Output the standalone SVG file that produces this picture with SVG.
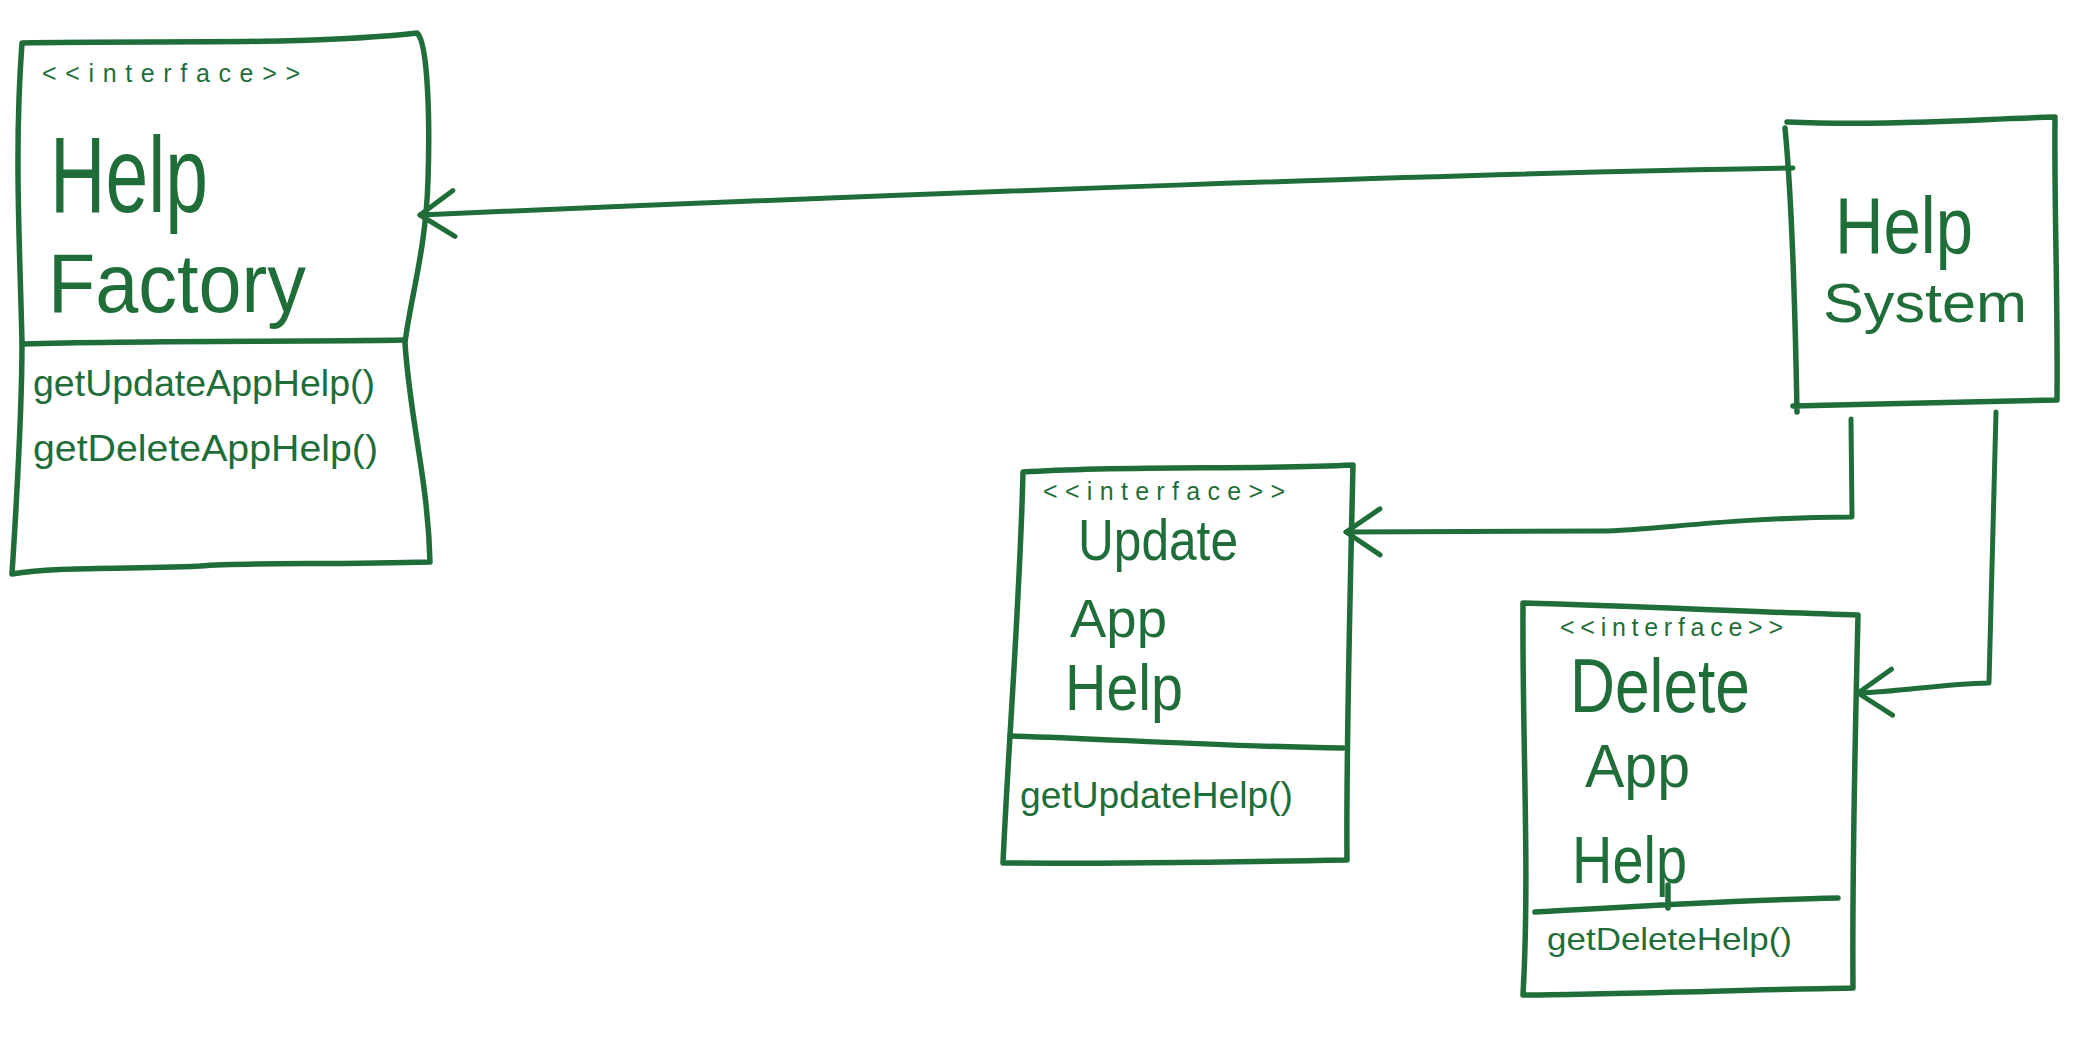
<svg xmlns="http://www.w3.org/2000/svg" width="2086" height="1062" viewBox="0 0 2086 1062">
<style>
.box{fill:none;stroke:#1f6e3a;stroke-width:5.5;stroke-linejoin:round;stroke-linecap:round}
.wire{fill:none;stroke:#1f6e3a;stroke-width:5;stroke-linecap:round;stroke-linejoin:round}
.t{fill:#1f6e3a;font-family:"Liberation Sans",Arial,sans-serif}
.st{font-size:25px}
.m{font-size:36px}
</style>
<defs>
<marker id="open" markerUnits="userSpaceOnUse" orient="auto" refX="0" refY="0" markerWidth="60" markerHeight="60" overflow="visible">
<path d="M-34,-23 L0,0 L-34,23" fill="none" stroke="#1f6e3a" stroke-width="5" stroke-linecap="round" stroke-linejoin="round"/>
</marker>
</defs>
<rect width="2086" height="1062" fill="#ffffff"/>

<g id="help-factory">
<path class="box" d="M22,43 C150,40 300,46 417,33 C428,42 430,120 428,180 C426,250 410,300 405,343 C410,420 428,480 430,562 C330,565 250,562 200,566 C120,570 60,566 12,574 C18,480 22,400 22,343 C20,250 14,150 22,43 Z"/>
<path class="box" d="M22,344 C150,340 300,342 405,340"/>
<text class="t st" x="42" y="82" textLength="258" lengthAdjust="spacing">&lt;&lt;interface&gt;&gt;</text>
<text class="t" x="50" y="212" font-size="108" textLength="158" lengthAdjust="spacingAndGlyphs">Help</text>
<text class="t" x="48" y="312" font-size="84" textLength="258" lengthAdjust="spacingAndGlyphs">Factory</text>
<text class="t m" x="33" y="396" textLength="342" lengthAdjust="spacingAndGlyphs">getUpdateAppHelp()</text>
<text class="t m" x="33" y="461" textLength="345" lengthAdjust="spacingAndGlyphs">getDeleteAppHelp()</text>
</g>

<g id="help-system">
<path class="box" d="M1787,122 C1880,126 1960,120 2055,117 C2054,200 2058,300 2057,400 C1960,402 1880,404 1793,406 M1785,128 C1792,200 1795,300 1797,412"/>
<text class="t" x="1835" y="253" font-size="80" textLength="138" lengthAdjust="spacingAndGlyphs">Help</text>
<text class="t" x="1823" y="322" font-size="56" textLength="204" lengthAdjust="spacingAndGlyphs">System</text>
</g>

<g id="update-app-help">
<path class="box" d="M1023,472 C1130,465 1250,470 1353,465 C1350,600 1346,750 1347,860 C1230,862 1110,864 1003,863 C1008,750 1020,600 1023,472 Z"/>
<path class="box" d="M1010,736 C1100,738 1200,746 1343,748"/>
<text class="t st" x="1043" y="500" font-size="24" textLength="242" lengthAdjust="spacing">&lt;&lt;interface&gt;&gt;</text>
<text class="t" x="1078" y="560" font-size="58" textLength="160" lengthAdjust="spacingAndGlyphs">Update</text>
<text class="t" x="1070" y="637" font-size="54" textLength="97" lengthAdjust="spacingAndGlyphs">App</text>
<text class="t" x="1065" y="710" font-size="64" textLength="118" lengthAdjust="spacingAndGlyphs">Help</text>
<text class="t m" x="1020" y="808" font-size="34" textLength="273" lengthAdjust="spacingAndGlyphs">getUpdateHelp()</text>
</g>

<g id="delete-app-help">
<path class="box" d="M1523,603 C1640,606 1750,612 1858,615 C1855,740 1852,870 1853,988 C1740,990 1630,994 1523,995 C1530,870 1522,740 1523,603 Z"/>
<path class="box" d="M1535,912 C1640,906 1740,900 1838,898 M1668,885 L1668,908"/>
<text class="t st" x="1560" y="636" font-size="24" textLength="223" lengthAdjust="spacing">&lt;&lt;interface&gt;&gt;</text>
<text class="t" x="1570" y="712" font-size="76" textLength="180" lengthAdjust="spacingAndGlyphs">Delete</text>
<text class="t" x="1585" y="787" font-size="62" textLength="105" lengthAdjust="spacingAndGlyphs">App</text>
<text class="t" x="1572" y="883" font-size="66" textLength="115" lengthAdjust="spacingAndGlyphs">Help</text>
<text class="t" x="1547" y="950" font-size="32" textLength="245" lengthAdjust="spacingAndGlyphs">getDeleteHelp()</text>
</g>

<g id="connectors">
<path class="wire" marker-end="url(#open)" d="M1793,168 C1500,172 900,194 420,215"/>
<path class="wire" marker-end="url(#open)" d="M1851,419 L1852,517 C1720,518 1660,530 1600,531 L1346,532"/>
<path class="wire" marker-end="url(#open)" d="M1996,412 L1989,683 C1940,684 1900,692 1858,693"/>
</g>
</svg>
